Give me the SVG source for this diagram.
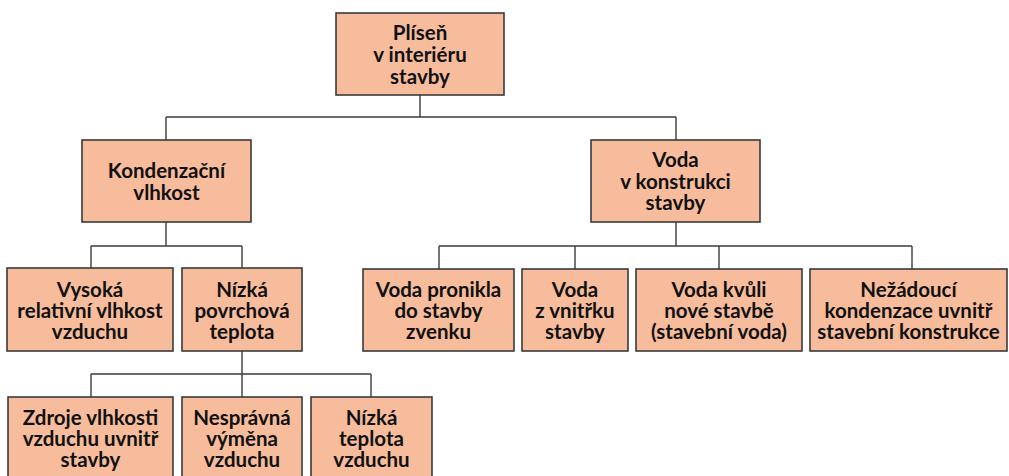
<svg xmlns="http://www.w3.org/2000/svg" width="1009" height="476" viewBox="0 0 1009 476">
<style>
.box{fill:#F7BC9C;stroke:#3a3a3a;stroke-width:1.6}
.t{font-family:Lato,"Open Sans",sans-serif;font-weight:bold;font-size:20.5px;fill:#111;text-anchor:middle}
.c{fill:none;stroke:#3c3c3c;stroke-width:1.4}
</style>
<rect width="1009" height="476" fill="#fff"/>
<g id="connectors">
<path class="c" d="M420 95V117M166 117H676M166 117V140M676 117V140"/>
<path class="c" d="M166 222V246M91 246H242M91 246V268M242 246V268"/>
<path class="c" d="M242 351V397M91 374H371M91 374V397M371 374V397"/>
<path class="c" d="M676 222V246M439 246H912M439 246V269M575 246V269M719 246V269M912 246V269"/>
</g>
<g id="n1"><rect class="box" x="336" y="13" width="168" height="82"/>
<text class="t" x="420" y="39.5">Plíseň</text><text class="t" x="420" y="61.5">v interiéru</text><text class="t" x="420" y="83.5">stavby</text></g>
<g id="n2"><rect class="box" x="82" y="140" width="169" height="82"/>
<text class="t" x="166.5" y="178">Kondenzační</text><text class="t" x="166.5" y="200">vlhkost</text></g>
<g id="n3"><rect class="box" x="591" y="140" width="169" height="82"/>
<text class="t" x="675.5" y="167">Voda</text><text class="t" x="675.5" y="188.5">v konstrukci</text><text class="t" x="675.5" y="210">stavby</text></g>
<g id="n4"><rect class="box" x="7" y="268" width="166" height="83"/>
<text class="t" x="90" y="297">Vysoká</text><text class="t" x="90" y="318">relativní vlhkost</text><text class="t" x="90" y="339">vzduchu</text></g>
<g id="n5"><rect class="box" x="182" y="268" width="120" height="83"/>
<text class="t" x="242" y="297">Nízká</text><text class="t" x="242" y="318">povrchová</text><text class="t" x="242" y="339">teplota</text></g>
<g id="n6"><rect class="box" x="363" y="269" width="151" height="82"/>
<text class="t" x="438.5" y="297">Voda pronikla</text><text class="t" x="438.5" y="318">do stavby</text><text class="t" x="438.5" y="339">zvenku</text></g>
<g id="n7"><rect class="box" x="522" y="269" width="106" height="82"/>
<text class="t" x="575" y="297">Voda</text><text class="t" x="575" y="318">z vnitřku</text><text class="t" x="575" y="339">stavby</text></g>
<g id="n8"><rect class="box" x="636" y="269" width="166" height="82"/>
<text class="t" x="719" y="297">Voda kvůli</text><text class="t" x="719" y="318">nové stavbě</text><text class="t" x="719" y="339">(stavební voda)</text></g>
<g id="n9"><rect class="box" x="810" y="269" width="197" height="82"/>
<text class="t" x="908.5" y="297">Nežádoucí</text><text class="t" x="908.5" y="318">kondenzace uvnitř</text><text class="t" x="908.5" y="339">stavební konstrukce</text></g>
<g id="n10"><rect class="box" x="8" y="397" width="165" height="84"/>
<text class="t" x="90.5" y="425">Zdroje vlhkosti</text><text class="t" x="90.5" y="446">vzduchu uvnitř</text><text class="t" x="90.5" y="467">stavby</text></g>
<g id="n11"><rect class="box" x="182" y="397" width="120" height="84"/>
<text class="t" x="242" y="425">Nesprávná</text><text class="t" x="242" y="446">výměna</text><text class="t" x="242" y="467">vzduchu</text></g>
<g id="n12"><rect class="box" x="311" y="397" width="121" height="84"/>
<text class="t" x="371.5" y="425">Nízká</text><text class="t" x="371.5" y="446">teplota</text><text class="t" x="371.5" y="467">vzduchu</text></g>
</svg>
